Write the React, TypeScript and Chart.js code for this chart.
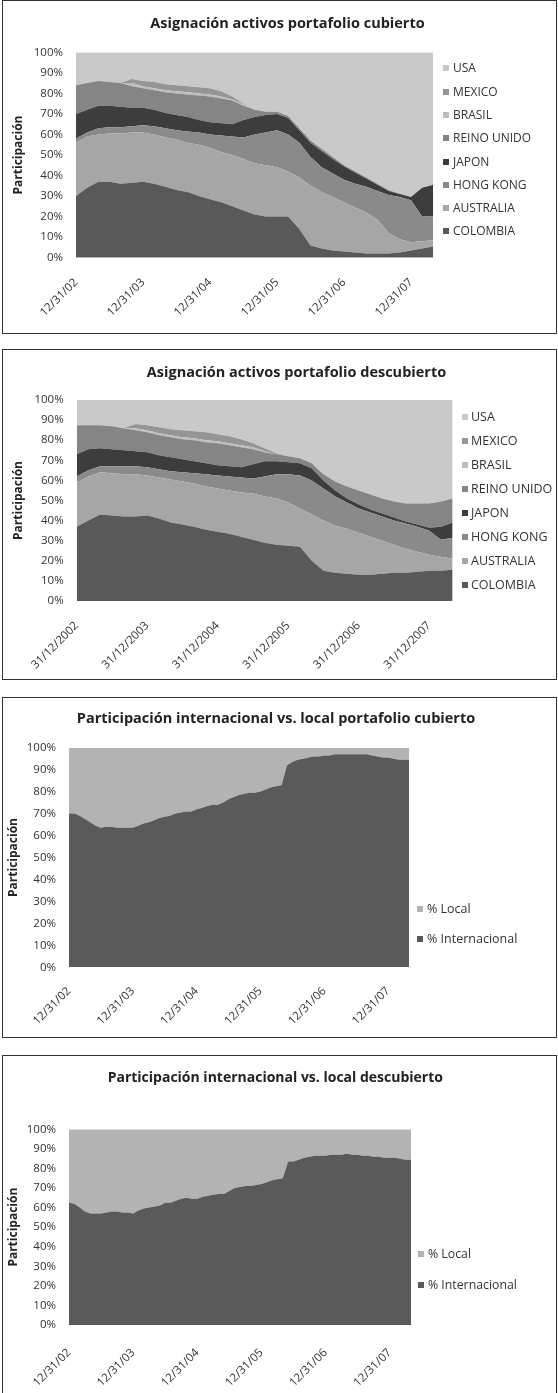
import React, { useEffect, useRef } from "react";
import { Chart, registerables } from "chart.js";
Chart.register(...registerables);

const FONT = "'Open Sans', sans-serif";

// ---------- categories ----------
const datesBimUS = [
  "12/31/02", "02/28/03", "04/30/03", "06/30/03", "08/31/03", "10/31/03",
  "12/31/03", "02/29/04", "04/30/04", "06/30/04", "08/31/04", "10/31/04",
  "12/31/04", "02/28/05", "04/30/05", "06/30/05", "08/31/05", "10/31/05",
  "12/31/05", "02/28/06", "04/30/06", "06/30/06", "08/31/06", "10/31/06",
  "12/31/06", "02/28/07", "04/30/07", "06/30/07", "08/31/07", "10/31/07",
  "12/31/07", "02/29/08", "04/30/08",
];
const datesBimEU = [
  "31/12/2002", "28/02/2003", "30/04/2003", "30/06/2003", "31/08/2003", "31/10/2003",
  "31/12/2003", "29/02/2004", "30/04/2004", "30/06/2004", "31/08/2004", "31/10/2004",
  "31/12/2004", "28/02/2005", "30/04/2005", "30/06/2005", "31/08/2005", "31/10/2005",
  "31/12/2005", "28/02/2006", "30/04/2006", "30/06/2006", "31/08/2006", "31/10/2006",
  "31/12/2006", "28/02/2007", "30/04/2007", "30/06/2007", "31/08/2007", "31/10/2007",
  "31/12/2007", "29/02/2008", "30/04/2008",
];
const datesMonUS = [
  "12/31/02",
  "01/31/03", "02/28/03", "03/31/03", "04/30/03", "05/31/03", "06/30/03",
  "07/31/03", "08/31/03", "09/30/03", "10/31/03", "11/30/03", "12/31/03",
  "01/31/04", "02/29/04", "03/31/04", "04/30/04", "05/31/04", "06/30/04",
  "07/31/04", "08/31/04", "09/30/04", "10/31/04", "11/30/04", "12/31/04",
  "01/31/05", "02/28/05", "03/31/05", "04/30/05", "05/31/05", "06/30/05",
  "07/31/05", "08/31/05", "09/30/05", "10/31/05", "11/30/05", "12/31/05",
  "01/31/06", "02/28/06", "03/31/06", "04/30/06", "05/31/06", "06/30/06",
  "07/31/06", "08/31/06", "09/30/06", "10/31/06", "11/30/06", "12/31/06",
  "01/31/07", "02/28/07", "03/31/07", "04/30/07", "05/31/07", "06/30/07",
  "07/31/07", "08/31/07", "09/30/07", "10/31/07", "11/30/07", "12/31/07",
  "01/31/08", "02/29/08", "03/31/08", "04/30/08",
];

// ---------- series: portafolio cubierto (%) ----------
const cubColombia = [30, 34, 37, 37, 36, 36.5, 37, 36, 34.5, 33, 32, 30, 28.5, 27, 25, 23, 21, 20, 20, 20, 14, 6, 4.5, 3.5, 3, 2.5, 2, 2, 2, 2.5, 3.5, 4.5, 5.5];
const cubAustralia = [26, 25, 23, 23.5, 24.5, 24.5, 24, 24, 24, 24.5, 24, 25, 25, 24.5, 25, 25, 25, 25, 24, 22, 25, 29, 27.5, 26, 24, 22, 20, 16.5, 10, 6.5, 4, 3.5, 3];
const cubHongKong = [2, 2, 3, 3, 3, 3, 3.5, 4, 4.5, 4.5, 5.5, 6, 6.5, 8, 9, 10.5, 14, 16, 18, 18, 17, 14, 12, 11.5, 11, 11.5, 12.5, 14, 18.5, 20.5, 20.5, 12, 11.5];
const cubJapon = [12, 11, 11, 10.5, 10, 9, 8.5, 8, 7.5, 7.5, 7, 6, 6, 6, 6, 8.5, 8.5, 8.5, 8, 8, 6, 7, 8, 7, 6.5, 5.5, 4, 3, 2, 1.5, 1.5, 14, 15.5];
const cubReinoUnido = [14, 13, 12, 11.5, 11.5, 10.5, 9.5, 9.5, 10, 10.5, 11, 12, 12.5, 12, 11.5, 7, 3.5, 1.5, 1, 1, 1, 1, 1, 1, 0.5, 0.5, 0.5, 0.5, 0.5, 0, 0, 0, 0];
const cubBrasil = [0, 0, 0, 0, 0, 1.5, 1, 1, 1, 1, 1, 1, 1, 1, 0.5, 0.5, 0, 0, 0, 0, 0, 0, 0, 0, 0, 0, 0, 0, 0, 0, 0, 0, 0];
const cubMexico = [0, 0, 0, 0, 0, 2, 2.5, 3, 3, 3, 3, 3, 3, 2.5, 1.5, 0.5, 0, 0, 0, 0, 0, 0, 0, 0, 0, 0, 0, 0, 0, 0, 0, 0, 0];
const cubUsa = [16, 15, 14, 14.5, 15, 13, 14, 14.5, 15.5, 16, 16.5, 17, 17.5, 19, 21.5, 25, 28, 29, 29, 31, 37, 43, 47, 51, 55, 58, 61, 64, 67, 69, 70.5, 66, 64.5];

// ---------- series: portafolio descubierto (%) ----------
const desColombia = [37, 40, 43, 42.5, 42, 42, 42.5, 41, 39, 38, 37, 35.5, 34.5, 33.5, 32, 30.5, 29, 28, 27.5, 27, 20, 15, 14, 13.5, 13, 13, 13.5, 14, 14, 14.5, 15, 15, 15.5];
const desAustralia = [22, 22, 21, 21, 21, 21, 20, 20.5, 21.5, 21.5, 21.5, 21.5, 21.5, 21.5, 22, 23, 23, 23, 21.5, 19, 23, 25, 23.5, 22.5, 21, 19, 16.5, 14, 12, 10, 8, 7, 5.5];
const desHongKong = [3, 3, 3, 3.5, 4, 4, 4, 4, 4, 4.5, 5, 6, 6.5, 7, 7.5, 7.5, 10, 12, 14, 16.5, 17, 16, 14.5, 13, 12, 12, 12, 12, 12.5, 12.5, 12, 8.5, 10.5];
const desJapon = [11, 10.5, 9, 8.5, 8, 7.5, 7.5, 7, 7, 6.5, 6, 5.5, 5, 5, 5, 7, 7.5, 6.5, 6, 6, 6, 4, 3, 2, 2, 1.5, 1.5, 1.5, 1, 1, 1.5, 6.5, 7.5];
const desReinoUnido = [14.5, 12, 11.5, 11.5, 11, 10.5, 10, 10, 10, 10, 10.5, 10.5, 11, 10.5, 10, 7.5, 4.5, 3.5, 3, 2.5, 2.5, 3, 4.5, 6, 7, 7.5, 7.5, 8, 9, 10.5, 12, 12.5, 12];
const desBrasil = [0, 0, 0, 0, 0, 1, 1, 1, 1, 1, 1, 1, 1, 1, 1, 1, 0.5, 0, 0, 0, 0, 0, 0, 0, 0, 0, 0, 0, 0, 0, 0, 0, 0];
const desMexico = [0, 0, 0, 0, 0, 2, 2.5, 3, 3, 3.5, 3.5, 4, 3.5, 3.5, 3, 2, 1.5, 0.5, 0, 0, 0, 0, 0, 0, 0, 0, 0, 0, 0, 0, 0, 0, 0];
const desUsa = [12.5, 12.5, 12.5, 13, 14, 12, 12.5, 13.5, 14.5, 15, 15.5, 16, 17, 18, 19.5, 21.5, 24, 26.5, 28, 29, 31.5, 37, 40.5, 43, 45, 47, 49, 50.5, 51.5, 51.5, 51.5, 50.5, 49];

// ---------- series: internacional vs local (%) ----------
const cubInternacional = [70, 70, 69, 67.5, 66, 64.5, 63.5, 64, 64, 63.5, 63.5, 63.5, 63.5, 64.5, 65.5, 66, 67, 68, 68.5, 69, 70, 70.5, 71, 71, 72, 72.5, 73.5, 74, 74, 75, 76.5, 77.5, 78.5, 79, 79.5, 79.5, 80, 81, 82, 82.5, 83, 92, 93.5, 94.5, 95, 95.5, 96, 96, 96.5, 96.5, 97, 97, 97, 97, 97, 97, 97, 96.5, 96, 95.5, 95.5, 95, 94.5, 94.5, 94.5];
const cubLocal = [30, 30, 31, 32.5, 34, 35.5, 36.5, 36, 36, 36.5, 36.5, 36.5, 36.5, 35.5, 34.5, 34, 33, 32, 31.5, 31, 30, 29.5, 29, 29, 28, 27.5, 26.5, 26, 26, 25, 23.5, 22.5, 21.5, 21, 20.5, 20.5, 20, 19, 18, 17.5, 17, 8, 6.5, 5.5, 5, 4.5, 4, 4, 3.5, 3.5, 3, 3, 3, 3, 3, 3, 3, 3.5, 4, 4.5, 4.5, 5, 5.5, 5.5, 5.5];
const desInternacional = [62.5, 62, 60, 58, 57, 57, 57, 57.5, 58, 58, 57.5, 57.5, 57, 58.5, 59.5, 60, 60.5, 61, 62.5, 62.5, 63.5, 64.5, 65, 64.5, 64.5, 65.5, 66, 66.5, 67, 67, 68.5, 70, 70.5, 71, 71, 71.5, 72, 73, 74, 74.5, 75, 83.5, 83.5, 84.5, 85.5, 86, 86.5, 86.5, 86.5, 87, 87, 87, 87.5, 87, 87, 86.5, 86.5, 86, 86, 85.5, 85.5, 85.5, 85, 84.5, 84.5];
const desLocal = [37.5, 38, 40, 42, 43, 43, 43, 42.5, 42, 42, 42.5, 42.5, 43, 41.5, 40.5, 40, 39.5, 39, 37.5, 37.5, 36.5, 35.5, 35, 35.5, 35.5, 34.5, 34, 33.5, 33, 33, 31.5, 30, 29.5, 29, 29, 28.5, 28, 27, 26, 25.5, 25, 16.5, 16.5, 15.5, 14.5, 14, 13.5, 13.5, 13.5, 13, 13, 13, 12.5, 13, 13, 13.5, 13.5, 14, 14, 14.5, 14.5, 14.5, 15, 15.5, 15.5];

const countryNames = ["COLOMBIA", "AUSTRALIA", "HONG KONG", "JAPON", "REINO UNIDO", "BRASIL", "MEXICO", "USA"];
const countryColors = ["#595959", "#a6a6a6", "#8a8a8a", "#3d3d3d", "#858585", "#bdbdbd", "#959595", "#c9c9c9"];
const ivlNames = ["% Internacional", "% Local"];
const ivlColors = ["#5a5a5a", "#b3b3b3"];

type Series = { name: string; data: number[]; color: string };
type Spec = {
  title: string;
  labels: string[];
  tickPrefix: string;
  series: Series[];
  box: { left: number; top: number; width: number; height: number };
  yW: number;
  padRight: number;
  padTop: number;
  titleX: number;
  titleY: number;
  titleSize: number;
  xH: number;
  xPad: number;
  yTitlePad: number;
  tickSize: number;
  legend: { sqX: number; textX: number; y0: number; step: number; size: number };
};

const mk = (names: string[], colors: string[], data: number[][]): Series[] =>
  names.map((n, i) => ({ name: n, color: colors[i], data: data[i] }));

const specs: Spec[] = [
  {
    title: "Asignación activos portafolio cubierto",
    labels: datesBimUS,
    tickPrefix: "12/31",
    series: mk(countryNames, countryColors, [cubColombia, cubAustralia, cubHongKong, cubJapon, cubReinoUnido, cubBrasil, cubMexico, cubUsa]),
    box: { left: 2, top: 0, width: 555, height: 334 },
    yW: 73, padRight: 122.7, padTop: 51.3, titleX: 284.5, titleY: 22.3, titleSize: 14.5,
    xH: 75.3, xPad: 18, yTitlePad: 8.1, tickSize: 11.5,
    legend: { sqX: 440, textX: 450, y0: 67.3, step: 23.3, size: 12 },
  },
  {
    title: "Asignación activos portafolio descubierto",
    labels: datesBimEU,
    tickPrefix: "31/12",
    series: mk(countryNames, countryColors, [desColombia, desAustralia, desHongKong, desJapon, desReinoUnido, desBrasil, desMexico, desUsa]),
    box: { left: 2, top: 349, width: 555, height: 331 },
    yW: 73.7, padRight: 103.3, padTop: 50, titleX: 293.5, titleY: 21.7, titleSize: 14.5,
    xH: 78, xPad: 18, yTitlePad: 8.1, tickSize: 11.5,
    legend: { sqX: 458.7, textX: 468, y0: 67.3, step: 24, size: 12.5 },
  },
  {
    title: "Participación internacional vs. local portafolio cubierto",
    labels: datesMonUS,
    tickPrefix: "12/31",
    series: mk(ivlNames, ivlColors, [cubInternacional, cubLocal]),
    box: { left: 2, top: 697, width: 555, height: 341 },
    yW: 66, padRight: 146.7, padTop: 49.7, titleX: 273, titleY: 20.3, titleSize: 14.5,
    xH: 69.7, xPad: 17, yTitlePad: 3.1, tickSize: 11.5,
    legend: { sqX: 414, textX: 424, y0: 211, step: 30.3, size: 12.5 },
  },
  {
    title: "Participación internacional vs. local descubierto",
    labels: datesMonUS,
    tickPrefix: "12/31",
    series: mk(ivlNames, ivlColors, [desInternacional, desLocal]),
    box: { left: 2, top: 1055, width: 555, height: 347 },
    yW: 66, padRight: 145, padTop: 73.3, titleX: 272.3, titleY: 20.7, titleSize: 14,
    xH: 76, xPad: 21, yTitlePad: 3.1, tickSize: 11.5,
    legend: { sqX: 415, textX: 425, y0: 198, step: 31, size: 12.3 },
  },
];

function ChartBox({ spec }: { spec: Spec }) {
  const ref = useRef<HTMLCanvasElement>(null);
  const w = spec.box.width - 2;
  const h = spec.box.height - 2;
  useEffect(() => {
    const canvas = ref.current;
    if (!canvas) return;
    const chart = new Chart(canvas, {
      type: "line",
      data: {
        labels: spec.labels,
        datasets: spec.series.map((s, i) => ({
          label: s.name,
          data: s.data,
          backgroundColor: s.color,
          borderColor: s.color,
          borderWidth: 0,
          pointRadius: 0,
          tension: 0,
          fill: i === 0 ? "origin" : "-1",
        })),
      },
      options: {
        responsive: false,
        maintainAspectRatio: false,
        animation: false,
        devicePixelRatio: 1,
        layout: { padding: { left: 0, right: spec.padRight, top: spec.padTop, bottom: 0 } },
        plugins: {
          legend: { display: false },
          tooltip: { enabled: false },
          title: { display: false },
        },
        scales: {
          x: {
            type: "category",
            offset: false,
            grid: { display: false, drawTicks: false },
            border: { display: false },
            ticks: {
              autoSkip: false,
              minRotation: 45,
              maxRotation: 45,
              padding: spec.xPad,
              color: "#333",
              font: { family: FONT, size: 11.5 },
              callback: (_v: any, i: number) => {
                const l = spec.labels[i];
                return l.startsWith(spec.tickPrefix) ? l : "";
              },
            },
            afterFit: (s: any) => {
              s.height = spec.xH;
            },
          },
          y: {
            stacked: true,
            min: 0,
            max: 100,
            grid: { display: false, drawTicks: false },
            border: { display: false },
            ticks: {
              stepSize: 10,
              padding: 13,
              color: "#333",
              font: { family: FONT, size: spec.tickSize },
              callback: (v: any) => v + "%",
            },
            title: {
              display: true,
              text: "Participación",
              color: "#222",
              font: { family: FONT, size: 12, weight: "bold", lineHeight: 1.2 },
              padding: { top: spec.yTitlePad, bottom: 0 },
            },
            afterFit: (s: any) => {
              s.width = spec.yW;
            },
          },
        },
      } as any,
    });
    return () => chart.destroy();
  }, [spec]);

  const legendItems = [...spec.series].reverse();
  return (
    <div
      style={{
        position: "absolute",
        left: spec.box.left,
        top: spec.box.top,
        width: spec.box.width,
        height: spec.box.height,
        border: "1px solid #333",
        boxSizing: "border-box",
        background: "#fff",
      }}
    >
      <canvas
        ref={ref}
        width={w}
        height={h}
        style={{ position: "absolute", left: 0, top: 0, width: w, height: h }}
      />
      <div
        style={{
          position: "absolute",
          left: spec.titleX,
          top: spec.titleY,
          transform: "translate(-50%, -50%)",
          fontFamily: FONT,
          fontWeight: "bold",
          fontSize: spec.titleSize,
          lineHeight: "1",
          color: "#222",
          whiteSpace: "nowrap",
        }}
      >
        {spec.title}
      </div>
      {legendItems.map((s, i) => {
        const y = spec.legend.y0 + i * spec.legend.step;
        return (
          <React.Fragment key={s.name}>
            <div
              style={{
                position: "absolute",
                left: spec.legend.sqX,
                top: y - 3,
                width: 6,
                height: 6,
                background: s.color,
              }}
            />
            <div
              style={{
                position: "absolute",
                left: spec.legend.textX,
                top: y,
                transform: "translateY(-50%)",
                fontFamily: FONT,
                fontSize: spec.legend.size,
                lineHeight: "1",
                color: "#333",
                whiteSpace: "nowrap",
              }}
            >
              {s.name}
            </div>
          </React.Fragment>
        );
      })}
    </div>
  );
}

export default function App() {
  return (
    <div
      style={{
        position: "absolute",
        left: 0,
        top: 0,
        width: 558,
        height: 1393,
        overflow: "hidden",
        background: "#fff",
      }}
    >
      {specs.map((s) => (
        <ChartBox key={s.title} spec={s} />
      ))}
    </div>
  );
}
